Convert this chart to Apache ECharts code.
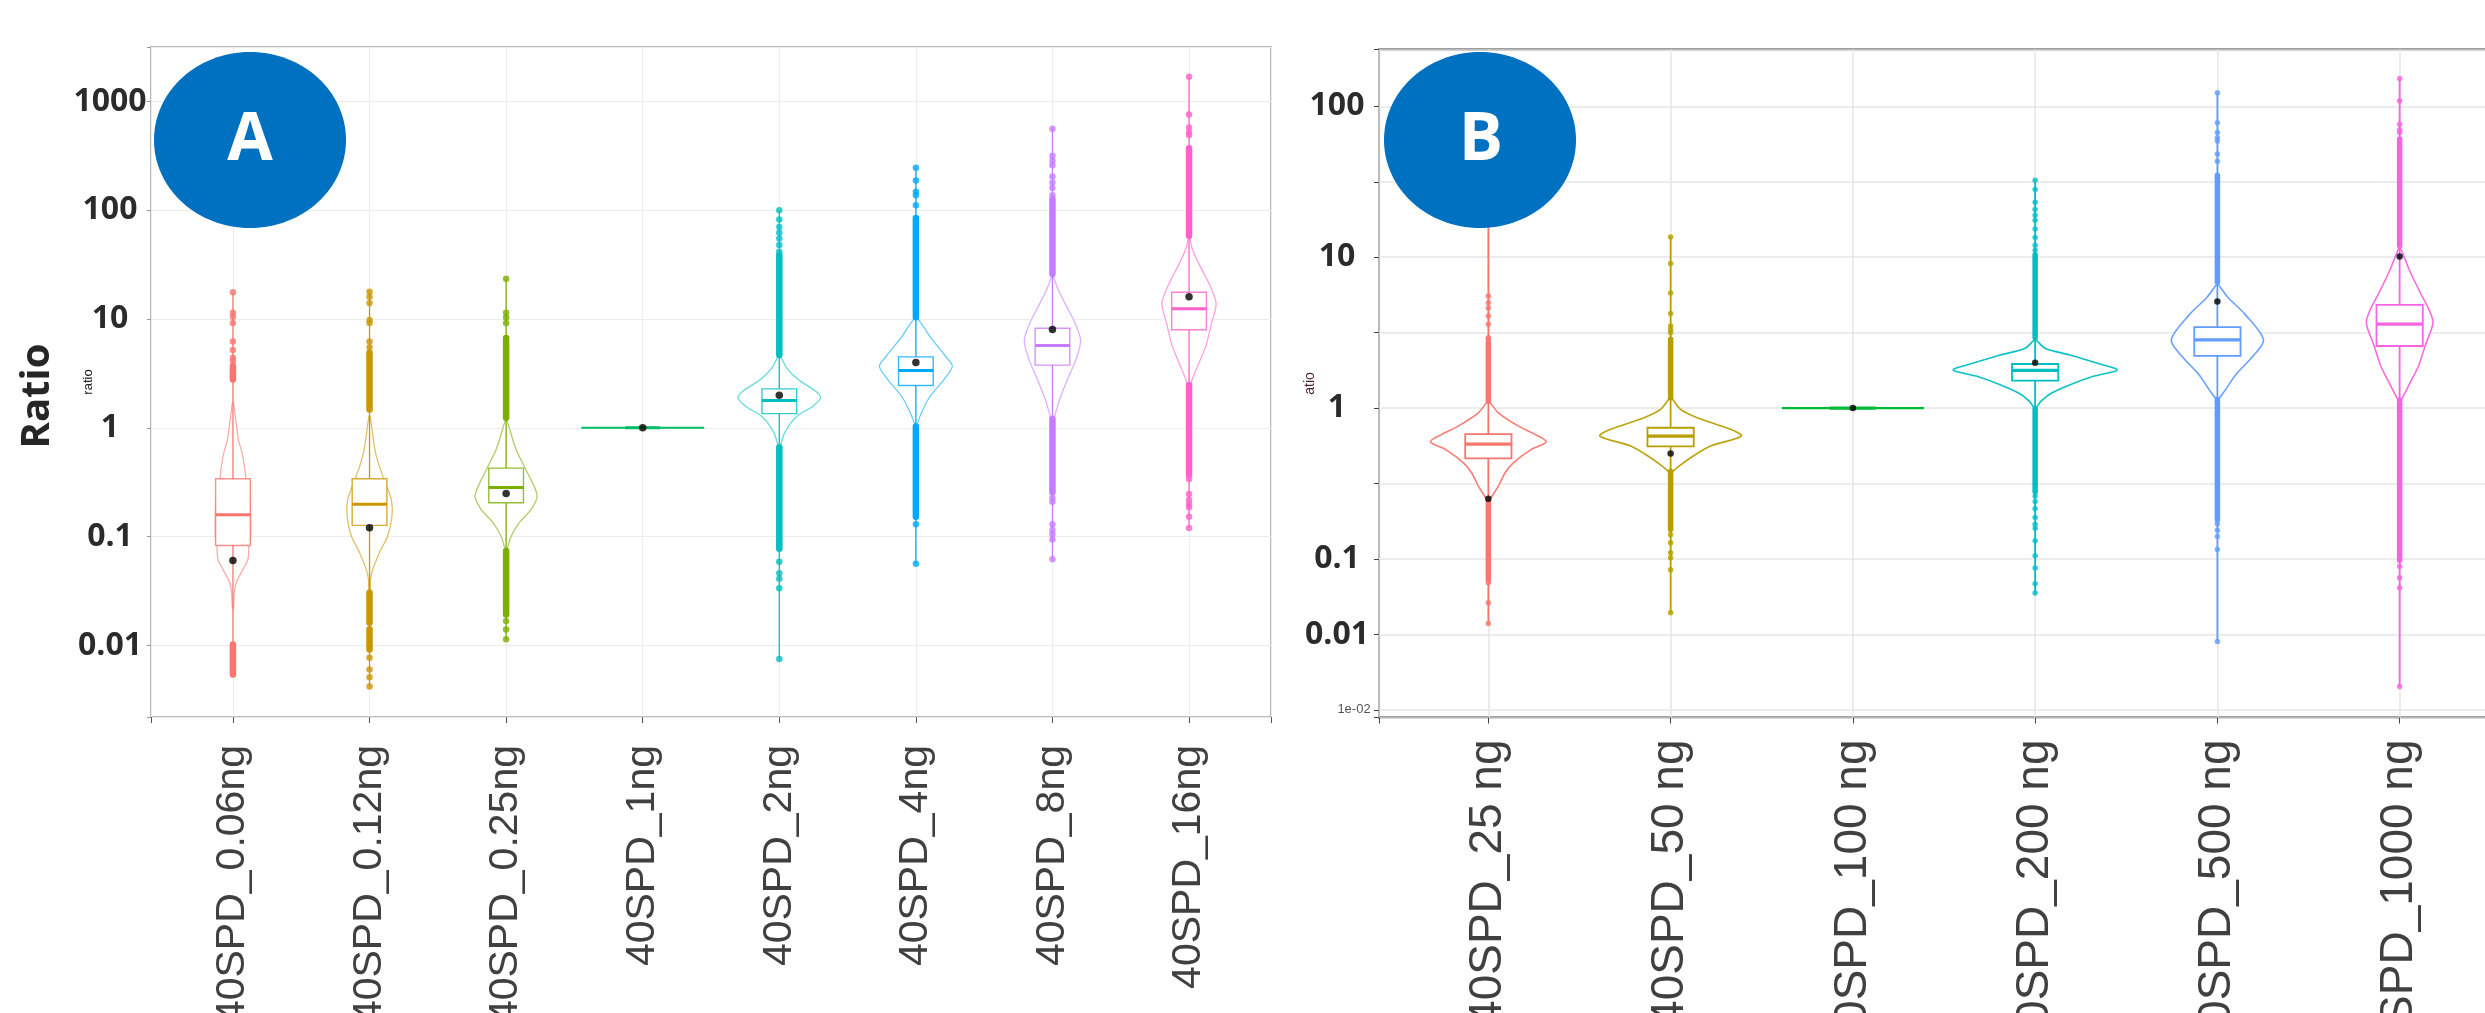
<!DOCTYPE html>
<html>
<head>
<meta charset="utf-8">
<title>Ratio violin plots A / B</title>
<script src="https://cdn.jsdelivr.net/npm/echarts@6/dist/echarts.min.js"></script>
<style>
  html, body { margin: 0; padding: 0; background: #fff; }
  #main { width: 2485px; height: 1013px; }
</style>
</head>
<body>
<div id="main"></div>
<script>
// ---------- panel A ----------
var catsA = ['40SPD_0.06ng', '40SPD_0.12ng', '40SPD_0.25ng', '40SPD_1ng',
             '40SPD_2ng', '40SPD_4ng', '40SPD_8ng', '40SPD_16ng'];
var colorsA = ['#F8766D', '#CD9600', '#7CAE00', '#00BE67', '#00BFC4', '#00A9FF', '#C77CFF', '#FF61CC'];
// q1, median, q3
var boxA = [[0.083, 0.159, 0.340], [0.127, 0.198, 0.340], [0.205, 0.283, 0.426], [1, 1, 1],
            [1.35, 1.78, 2.28], [2.45, 3.37, 4.49], [3.77, 5.7, 8.22], [7.96, 12.4, 17.6]];
var meanA = [0.0604, 0.121, 0.249, 1, 1.99, 3.98, 8.0, 16.0];
var rangeA = [[0.0054, 17.6], [0.0042, 17.8], [0.0114, 23.4], [1, 1],
              [0.0075, 100], [0.0564, 245], [0.062, 561], [0.12, 1687]];
// dense outlier stretches [low, high]
var runsA = [
  [[2.78, 3.68], [0.0054, 0.0102]],
  [[1.47, 4.9], [0.0162, 0.0305], [0.0092, 0.0141]],
  [[1.24, 6.7], [0.0193, 0.0736]],
  [],
  [[4.67, 38.5], [0.0774, 0.664]],
  [[10.4, 85], [0.152, 1.03]],
  [[25.9, 126], [0.256, 1.21]],
  [[58.2, 372], [0.38, 2.47]]
];
// single outliers
var ptsA = [
  [17.6, 11.4, 10.5, 9.2, 6.2, 5.2, 4.4, 4.1],
  [17.8, 16, 14, 9.8, 9.2, 6.2, 5.5, 0.0077, 0.006, 0.0051, 0.0042],
  [23.4, 11.4, 10.3, 9.2, 0.0168, 0.014, 0.0114],
  [],
  [100, 82, 70, 62, 55, 48, 41.6, 0.0587, 0.0462, 0.041, 0.0336, 0.0075],
  [245, 188, 148, 137, 111, 0.13, 0.0564],
  [561, 316, 285, 259, 204, 180, 160, 137, 0.226, 0.209, 0.13, 0.115, 0.105, 0.094, 0.062],
  [1687, 759, 576, 520, 490, 0.366, 0.338, 0.246, 0.218, 0.2, 0.186, 0.152, 0.12]
];
// violin outline: [ratio, half width in category units]
var violinA = [
  [[1.7, 0.004], [1.19, 0.02], [0.78, 0.04], [0.57, 0.07], [0.41, 0.088], [0.34, 0.095], [0.2, 0.125],
   [0.1, 0.13], [0.082, 0.117], [0.062, 0.11], [0.05, 0.073], [0.0377, 0.024], [0.0305, 0.01], [0.022, 0.004]],
  [[1.28, 0.004], [0.59, 0.044], [0.36, 0.097], [0.22, 0.159], [0.149, 0.163], [0.101, 0.132],
   [0.0714, 0.073], [0.05, 0.024], [0.0407, 0.008], [0.03, 0.004]],
  [[1.19, 0.004], [0.632, 0.073], [0.41, 0.146], [0.239, 0.227], [0.178, 0.183], [0.134, 0.095],
   [0.101, 0.037], [0.0764, 0.008], [0.07, 0.004]],
  [[1, 0.45]],
  [[4.67, 0.004], [3.53, 0.055], [2.78, 0.138], [2.19, 0.262], [1.9, 0.303], [1.59, 0.249],
   [1.26, 0.124], [0.91, 0.041], [0.66, 0.004]],
  [[10.4, 0.004], [8.5, 0.055], [6.7, 0.11], [4.5, 0.22], [3.68, 0.267], [2.78, 0.205],
   [1.87, 0.095], [1.26, 0.028], [1.05, 0.004]],
  [[24.8, 0.004], [18.8, 0.041], [13.7, 0.095], [9.2, 0.165], [6.4, 0.206], [4.49, 0.179],
   [2.78, 0.11], [1.87, 0.055], [1.26, 0.014], [1.2, 0.004]],
  [[57, 0.004], [45, 0.022], [32.8, 0.069], [20.4, 0.152], [13.9, 0.198], [9.2, 0.165],
   [5.7, 0.124], [3.5, 0.055], [2.47, 0.008], [2.4, 0.004]]
];
var tickExpA = [-2, -1, 0, 1, 2, 3];
var tickTextA = ['0.01', '0.1', '1', '10', '100', '1000'];

// ---------- panel B ----------
var catsB = ['40SPD_25 ng', '40SPD_50 ng', '40SPD_100 ng', '40SPD_200 ng', '40SPD_500 ng', '40SPD_1000 ng'];
var colorsB = ['#F8766D', '#B79F00', '#00BA38', '#00BFC4', '#619CFF', '#F564E3'];
var boxB = [[0.464, 0.577, 0.673], [0.557, 0.652, 0.741], [1, 1, 1],
            [1.52, 1.78, 1.96], [2.22, 2.83, 3.44], [2.58, 3.6, 4.83]];
var meanB = [0.251, 0.501, 1, 2.0, 5.09, 10.1];
var rangeB = [[0.0373, 50], [0.044, 13.6], [1, 1], [0.0594, 32.3], [0.0284, 123], [0.0143, 153]];
var runsB = [
  [[1.11, 2.71], [0.0731, 0.242]],
  [[1.17, 2.86], [0.157, 0.382]],
  [],
  [[2.92, 10.4], [0.279, 0.995]],
  [[6.82, 34.9], [0.182, 1.14]],
  [[11.9, 60.8], [0.098, 1.13]]
];
var ptsB = [
  [50, 5.53, 5.0, 4.6, 4.07, 3.59, 2.93, 2.86, 0.0695, 0.0513, 0.0373],
  [13.6, 9.1, 5.8, 4.23, 3.5, 3.3, 3.16, 0.145, 0.128, 0.11, 0.102, 0.085, 0.044],
  [],
  [32.3, 28.1, 23.1, 20.7, 19, 17.6, 15.4, 13.5, 12, 11.1, 0.261, 0.24, 0.215, 0.188, 0.17, 0.16,
   0.132, 0.105, 0.0873, 0.0686, 0.0594],
  [123, 77.8, 67, 62, 58.8, 48.3, 43.3, 0.171, 0.155, 0.141, 0.1156, 0.0284],
  [153, 109, 76, 70, 67, 0.089, 0.075, 0.0644, 0.0143]
];
var violinB = [
  [[1.11, 0.004], [0.93, 0.055], [0.76, 0.165], [0.67, 0.256], [0.598, 0.318], [0.532, 0.236],
   [0.434, 0.137], [0.373, 0.092], [0.304, 0.055], [0.248, 0.009], [0.24, 0.004]],
  [[1.17, 0.004], [0.98, 0.055], [0.863, 0.146], [0.723, 0.329], [0.652, 0.388], [0.56, 0.219],
   [0.469, 0.11], [0.412, 0.046], [0.373, 0.006], [0.365, 0.004]],
  [[1, 0.39]],
  [[2.83, 0.004], [2.48, 0.057], [2.25, 0.192], [1.98, 0.343], [1.79, 0.45], [1.63, 0.324],
   [1.43, 0.192], [1.25, 0.086], [1.1, 0.029], [1.0, 0.004]],
  [[6.6, 0.004], [5.43, 0.057], [4.18, 0.152], [2.83, 0.253], [2.18, 0.191], [1.68, 0.104],
   [1.29, 0.038], [1.14, 0.004]],
  [[11.5, 0.004], [8.04, 0.057], [5.79, 0.114], [4.47, 0.162], [3.67, 0.183], [2.65, 0.143],
   [1.91, 0.104], [1.47, 0.057], [1.17, 0.015], [1.13, 0.004]]
];
// half-decade exponents (x2) and their printed labels
var tickExpB = [-4, -3, -2, 0, 2, 4];
var tickTextB = ['{s|1e-02}', '0.01', '0.1', '1', '10', '100'];

var chart = echarts.init(document.getElementById('main'));

// draws violin + whisker line + dense outliers + box + median for one panel
function panelSeries(idx, colors, violins, boxes, means, ranges, runs, pts, st) {
  var custom = {
    type: 'custom',
    xAxisIndex: idx,
    yAxisIndex: idx,
    silent: true,
    z: 2,
    data: ranges.map(function (r, i) { return [i, r[0], r[1]]; }),
    encode: { x: 0, y: [1, 2] },
    renderItem: function (params, api) {
      var i = params.dataIndex;
      var c = colors[i];
      var soft = echarts.color.modifyAlpha(c, st.softAlpha);
      var kids = [];
      var v = violins[i];
      if (v.length === 1) {
        var l = api.coord([i - v[0][1], v[0][0]]), r = api.coord([i + v[0][1], v[0][0]]);
        kids.push({ type: 'line', shape: { x1: l[0], y1: l[1], x2: r[0], y2: r[1] },
          style: { stroke: c, lineWidth: st.flatWidth } });
      } else {
        var poly = v.map(function (d) { return api.coord([i + d[1], d[0]]); });
        for (var k = v.length - 1; k >= 0; k--) poly.push(api.coord([i - v[k][1], v[k][0]]));
        kids.push({ type: 'polygon', shape: { points: poly, smooth: 0.3 },
          style: { fill: '#fff', stroke: soft, lineWidth: st.violinWidth } });
      }
      var lo = api.coord([i, ranges[i][0]]), hi = api.coord([i, ranges[i][1]]);
      kids.push({ type: 'line', shape: { x1: lo[0], y1: lo[1], x2: hi[0], y2: hi[1] },
        style: { stroke: c, lineWidth: st.whiskerWidth } });
      runs[i].forEach(function (rn) {
        var a = api.coord([i, rn[0]]), b = api.coord([i, rn[1]]);
        kids.push({ type: 'line', shape: { x1: a[0], y1: a[1], x2: b[0], y2: b[1] },
          style: { stroke: c, lineWidth: st.dot, lineCap: 'round' } });
      });
      var bx = boxes[i];
      var tl = api.coord([i - st.boxHalf, bx[2]]), br = api.coord([i + st.boxHalf, bx[0]]);
      kids.push({ type: 'rect',
        shape: { x: tl[0], y: tl[1], width: br[0] - tl[0], height: br[1] - tl[1] },
        style: { fill: '#fff', stroke: echarts.color.modifyAlpha(c, st.boxAlpha), lineWidth: st.boxLine } });
      var ml = api.coord([i - st.boxHalf, bx[1]]), mr = api.coord([i + st.boxHalf, bx[1]]);
      kids.push({ type: 'line', shape: { x1: ml[0], y1: ml[1], x2: mr[0], y2: mr[1] },
        style: { stroke: c, lineWidth: st.medianWidth } });
      return { type: 'group', children: kids };
    }
  };
  var outl = [];
  pts.forEach(function (list, i) {
    list.forEach(function (p) { outl.push({ value: [i, p], itemStyle: { color: colors[i] } }); });
  });
  var outliers = {
    type: 'scatter', xAxisIndex: idx, yAxisIndex: idx, silent: true, z: 3,
    symbolSize: st.dot, data: outl
  };
  var meanPts = {
    type: 'scatter', xAxisIndex: idx, yAxisIndex: idx, silent: true, z: 4,
    symbolSize: st.mean, itemStyle: { color: '#000' },
    data: means.map(function (m, i) { return [i, m]; })
  };
  return [custom, outliers, meanPts];
}

var styleA = { softAlpha: 0.6, boxAlpha: 0.8, violinWidth: 1.3, flatWidth: 2, whiskerWidth: 1.3,
               dot: 6.5, mean: 7.5, boxHalf: 0.127, boxLine: 1.4, medianWidth: 3 };
var styleB = { softAlpha: 0.95, boxAlpha: 1, violinWidth: 1.6, flatWidth: 2.2, whiskerWidth: 1.8,
               dot: 5.5, mean: 6.5, boxHalf: 0.127, boxLine: 1.8, medianWidth: 3.2 };

function isWhole(v) { return Math.abs(v - Math.round(v)) < 1e-6; }

var xLabelFont = "'Liberation Sans', Arial, sans-serif";
var tickFont = "'Open Sans', 'DejaVu Sans', sans-serif";

var option = {
  backgroundColor: '#fff',
  animation: false,
  grid: [
    { left: 151, top: 47, width: 1120, height: 670, show: true, borderColor: '#a3a3a3',
      borderWidth: 1.5, backgroundColor: '#fff', containLabel: false, outerBoundsMode: 'none' },
    { left: 1379, top: 49.5, width: 1130, height: 668, show: true, borderColor: '#3c3c3c',
      borderWidth: 2, backgroundColor: '#fff', containLabel: false, outerBoundsMode: 'none' }
  ],
  xAxis: [
    { gridIndex: 0, type: 'value', min: -0.6, max: 7.6, splitNumber: 8, minInterval: 1, maxInterval: 1,
      axisLine: { show: false, onZero: false },
      axisTick: { show: true, length: 6, lineStyle: { color: '#555' } },
      splitLine: { show: true, lineStyle: { color: '#ececec', width: 1 } },
      axisLabel: { rotate: 90, margin: 28, fontSize: 41, fontFamily: xLabelFont, color: '#404040',
        formatter: function (v) { return isWhole(v) && catsA[Math.round(v)] ? catsA[Math.round(v)] : ''; } } },
    { gridIndex: 1, type: 'value', min: -0.6, max: 5.6, splitNumber: 6, minInterval: 1, maxInterval: 1,
      axisLine: { show: false, onZero: false },
      axisTick: { show: true, length: 6, lineStyle: { color: '#444' } },
      splitLine: { show: true, lineStyle: { color: '#e6e6e6', width: 1.5 } },
      axisLabel: { rotate: 90, margin: 22, fontSize: 46, fontFamily: xLabelFont, color: '#404040',
        formatter: function (v) { return isWhole(v) && catsB[Math.round(v)] ? catsB[Math.round(v)] : ''; } } }
  ],
  yAxis: [
    { gridIndex: 0, type: 'log', logBase: 10, min: 0.0022, max: 3162, splitNumber: 6,
      axisLine: { show: false, onZero: false },
      axisTick: { show: true, length: 4, lineStyle: { color: '#999' } },
      splitLine: { show: true, lineStyle: { color: '#ececec', width: 1.2 } },
      name: 'ratio', nameLocation: 'middle', nameGap: 56, nameRotate: 90, nameMoveOverlap: false,
      nameTextStyle: { fontSize: 13, color: '#222', fontFamily: 'Liberation Sans' },
      axisLabel: { margin: 41, align: 'center', fontSize: 32, fontWeight: 'bold', fontFamily: tickFont,
        color: '#2b2b2b',
        formatter: function (v) {
          var e = Math.log10(v), k = Math.round(e);
          if (Math.abs(e - k) > 0.01) return '';
          var j = tickExpA.indexOf(k);
          return j < 0 ? '' : tickTextA[j];
        } } },
    { gridIndex: 1, type: 'log', logBase: Math.sqrt(10), min: 0.0089, max: 238, splitNumber: 8,
      axisLine: { show: false, onZero: false },
      axisTick: { show: true, length: 5, lineStyle: { color: '#444' } },
      splitLine: { show: true, lineStyle: { color: '#e6e6e6', width: 1.5 } },
      name: 'atio', nameLocation: 'middle', nameGap: 62, nameRotate: 90, nameMoveOverlap: false,
      nameTextStyle: { fontSize: 14, color: '#4b1c2c', fontFamily: 'Liberation Sans' },
      axisLabel: { margin: 42, align: 'center', fontSize: 32, fontWeight: 'bold', fontFamily: tickFont,
        color: '#2b2b2b',
        rich: { s: { fontSize: 13, fontWeight: 'normal', color: '#555', fontFamily: 'Liberation Sans',
                     padding: [0, 0, 0, 34] } },
        formatter: function (v) {
          var e = 2 * Math.log10(v), k = Math.round(e);
          if (Math.abs(e - k) > 0.02) return '';
          var j = tickExpB.indexOf(k);
          return j < 0 ? '' : tickTextB[j];
        } } }
  ],
  series: [].concat(
    panelSeries(0, colorsA, violinA, boxA, meanA, rangeA, runsA, ptsA, styleA),
    panelSeries(1, colorsB, violinB, boxB, meanB, rangeB, runsB, ptsB, styleB)
  ),
  graphic: [
    { type: 'text', x: 38, y: 396, rotation: Math.PI / 2, z: 100,
      style: { text: 'Ratio', fill: '#262626', font: "bold 40px 'Open Sans', sans-serif",
               align: 'center', verticalAlign: 'middle' } },
    { type: 'ellipse', shape: { cx: 250, cy: 140, rx: 96, ry: 88 }, z: 100,
      style: { fill: '#0070C0' } },
    { type: 'text', x: 250, y: 141, z: 101,
      style: { text: 'A', fill: '#fff', font: "bold 66px 'Open Sans', sans-serif",
               align: 'center', verticalAlign: 'middle' } },
    { type: 'ellipse', shape: { cx: 1480, cy: 140, rx: 96, ry: 88 }, z: 100,
      style: { fill: '#0070C0' } },
    { type: 'text', x: 1481, y: 141, z: 101,
      style: { text: 'B', fill: '#fff', font: "bold 66px 'Open Sans', sans-serif",
               align: 'center', verticalAlign: 'middle' } }
  ]
};

chart.setOption(option);
</script>
</body>
</html>
